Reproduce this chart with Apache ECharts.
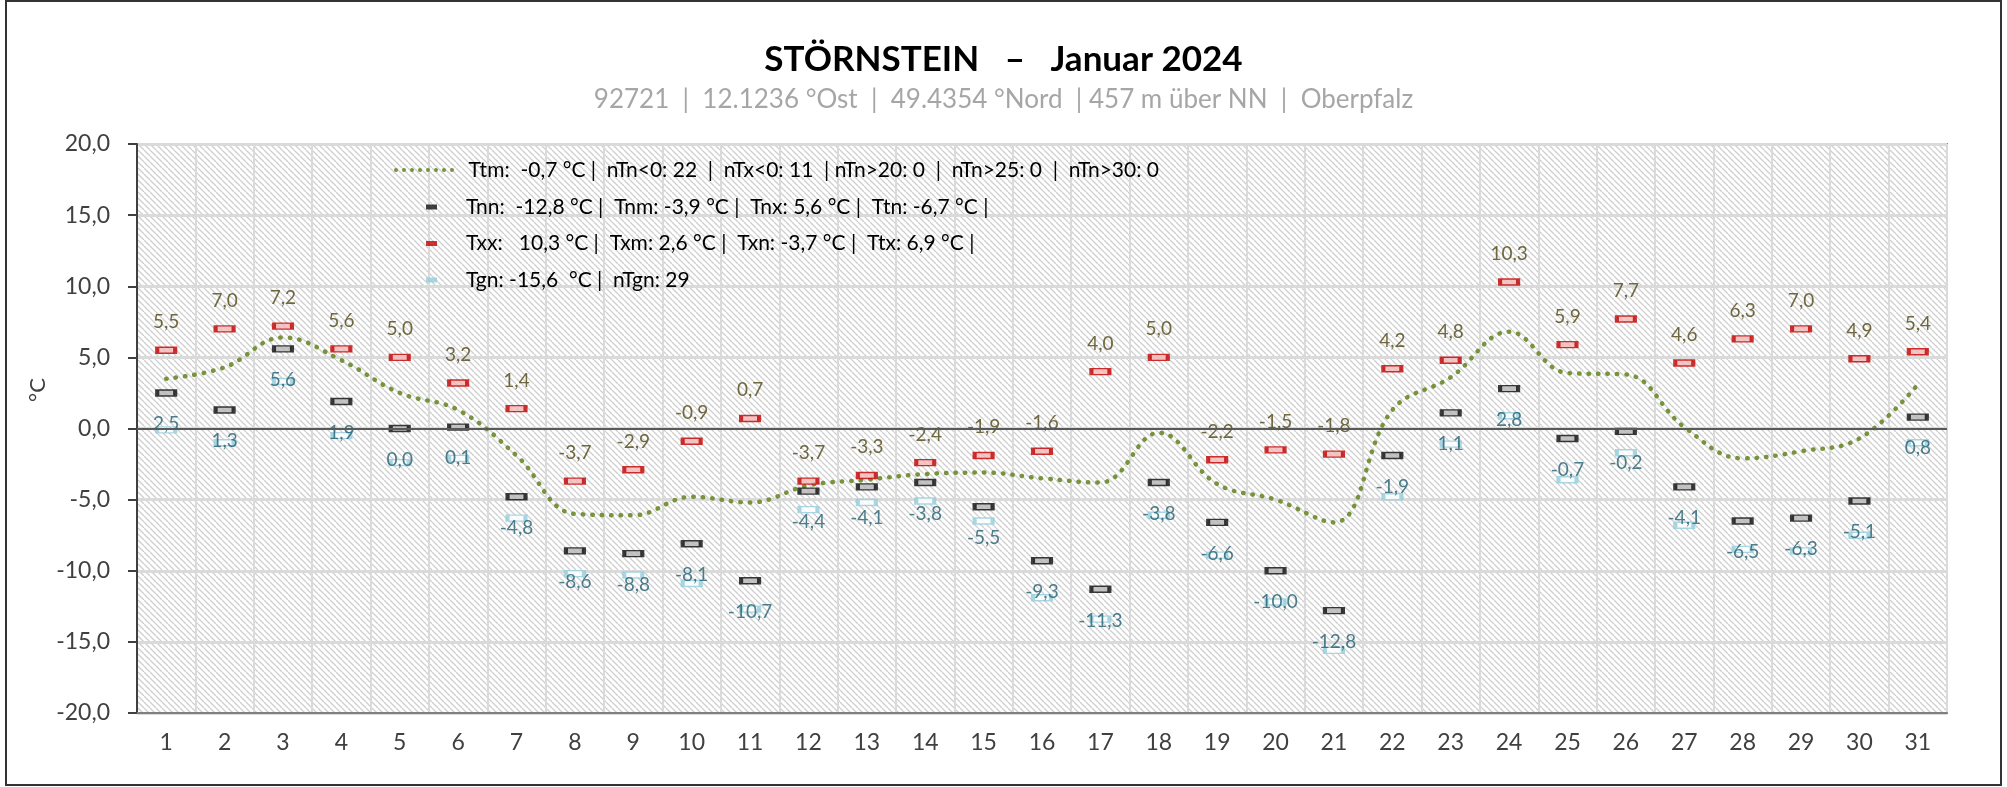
<!DOCTYPE html>
<html>
<head>
<meta charset="utf-8">
<script src="https://cdn.jsdelivr.net/npm/echarts@6/dist/echarts.min.js"></script>
<style>
  html, body { margin: 0; padding: 0; background: #fff; }
  #main { width: 2007px; height: 787px; }
</style>
</head>
<body>
<div id="main"></div>
<script>
// Tage
var days = [];
for (var d = 1; d <= 31; d++) days.push(String(d));

// Tagesmittel (gepunktete Linie)
var ttm = [3.5, 4.3, 6.4, 4.8, 2.5, 1.3, -1.9, -6.0, -6.1, -4.8, -5.2, -4.0, -3.6, -3.2, -3.1, -3.5,
           -3.8, -0.3, -3.9, -5.0, -6.6, 1.3, 3.6, 6.8, 3.9, 3.8, 0.1, -2.1, -1.6, -0.7, 3.1];
// Tiefstwerte (schwarz)
var tn = [2.5, 1.3, 5.6, 1.9, 0.0, 0.1, -4.8, -8.6, -8.8, -8.1, -10.7, -4.4, -4.1, -3.8, -5.5, -9.3,
          -11.3, -3.8, -6.6, -10.0, -12.8, -1.9, 1.1, 2.8, -0.7, -0.2, -4.1, -6.5, -6.3, -5.1, 0.8];
// Höchstwerte (rot)
var tx = [5.5, 7.0, 7.2, 5.6, 5.0, 3.2, 1.4, -3.7, -2.9, -0.9, 0.7, -3.7, -3.3, -2.4, -1.9, -1.6,
          4.0, 5.0, -2.2, -1.5, -1.8, 4.2, 4.8, 10.3, 5.9, 7.7, 4.6, 6.3, 7.0, 4.9, 5.4];
// Erdbodenminimum (hellblau)
var tgn = [-0.1, -1.0, 3.3, -0.5, -2.4, -2.1, -6.3, -10.2, -10.3, -10.9, -12.7, -5.7, -5.2, -5.1, -6.5, -11.9,
           -13.4, -6.1, -8.9, -12.2, -15.6, -4.8, -1.1, 0.9, -3.6, -1.7, -6.8, -8.5, -8.6, -7.5, -1.0];

var nameTtm = 'Ttm:  -0,7 °C |  nTn<0: 22  |  nTx<0: 11  | nTn>20: 0  |  nTn>25: 0  |  nTn>30: 0';
var nameTn  = 'Tnn:  -12,8 °C |  Tnm: -3,9 °C |  Tnx: 5,6 °C |  Ttn: -6,7 °C |';
var nameTx  = 'Txx:   10,3 °C |  Txm: 2,6 °C |  Txn: -3,7 °C |  Ttx: 6,9 °C |';
var nameTgn = 'Tgn: -15,6  °C |  nTgn: 29';

function komma(v) { return v.toFixed(1).replace('.', ','); }

// gepunktetes Legendensymbol
var dots = 'path://';
for (var i = 0; i < 8; i++) {
  dots += 'M' + (i * 8) + ',2 a2,2 0 1,0 4,0 a2,2 0 1,0 -4,0 ';
}

// Schraffur für den Hintergrund
var hatch = document.createElement('canvas');
hatch.width = 6; hatch.height = 6;
var hc = hatch.getContext('2d');
hc.fillStyle = '#ffffff';
hc.fillRect(0, 0, 6, 6);
hc.strokeStyle = '#cfcfcf';
hc.lineWidth = 1.3;
for (var k = -6; k <= 6; k += 6) {
  hc.beginPath();
  hc.moveTo(k, 0);
  hc.lineTo(k + 6, 6);
  hc.stroke();
}

var font = 'Lato, "Open Sans", sans-serif';
var myChart = echarts.init(document.getElementById('main'));

var option = {
  backgroundColor: '#fff',
  textStyle: { fontFamily: font },
  animation: false,
  title: [
    {
      text: 'STÖRNSTEIN   –   Januar 2024',
      left: 'center',
      top: 37,
      textStyle: { fontSize: 35, fontWeight: 'bold', color: '#000', fontFamily: font }
    },
    {
      text: '92721  |  12.1236 °Ost  |  49.4354 °Nord  | 457 m über NN  |  Oberpfalz',
      left: 'center',
      top: 82,
      textStyle: { fontSize: 26, fontWeight: 'normal', color: '#a6a6a6', fontFamily: font }
    }
  ],
  legend: [
    {
      data: [{ name: nameTtm, icon: dots, itemStyle: { color: '#77933c', borderWidth: 0 } }],
      left: 389,
      top: 154,
      itemWidth: 61,
      itemHeight: 4,
      textStyle: { fontSize: 21, color: '#000', lineHeight: 22, padding: [0, 0, 0, 9] }
    },
    {
      data: [
        { name: nameTn, itemStyle: { color: '#111', borderWidth: 0 } },
        { name: nameTx, itemStyle: { color: '#c00000', borderWidth: 0 } },
        { name: nameTgn, itemStyle: { color: '#92cddc', borderWidth: 0 } }
      ],
      orient: 'vertical',
      left: 421,
      top: 191,
      itemWidth: 11,
      itemHeight: 5,
      itemGap: 14.5,
      textStyle: { fontSize: 21, color: '#000', lineHeight: 22, padding: [0, 0, 0, 24] }
    }
  ],
  grid: {
    left: 137,
    right: 60,
    top: 144,
    bottom: 74,
    show: true,
    backgroundColor: { image: hatch, repeat: 'repeat' },
    borderColor: '#808080',
    borderWidth: 2
  },
  xAxis: {
    type: 'category',
    data: days,
    boundaryGap: true,
    axisLine: { onZero: false, lineStyle: { color: '#7f7f7f', width: 2 } },
    axisTick: { show: false },
    axisLabel: { fontSize: 23, color: '#404040', margin: 18, interval: 0 },
    splitLine: { show: true, interval: 0, lineStyle: { color: '#dadada', width: 2 } }
  },
  yAxis: {
    type: 'value',
    min: -20,
    max: 20,
    interval: 5,
    axisLine: { show: true, lineStyle: { color: '#404040', width: 2 } },
    axisTick: { show: true, length: 9, lineStyle: { color: '#404040', width: 2 } },
    axisLabel: { fontSize: 23, color: '#404040', margin: 27, formatter: function (v) { return komma(v); } },
    splitLine: { lineStyle: { color: '#dadada', width: 3 } }
  },
  graphic: [
    {
      type: 'text',
      x: 38,
      y: 390,
      rotation: Math.PI / 2,
      style: { text: '°C', font: '22px ' + font, fill: '#404040', align: 'center', verticalAlign: 'middle' }
    },
    {
      type: 'rect',
      shape: { x: 6, y: 1, width: 1995, height: 784 },
      style: { fill: 'none', stroke: '#333', lineWidth: 2 },
      silent: true
    }
  ],
  series: [
    {
      name: nameTtm,
      type: 'line',
      data: ttm,
      smooth: 0.4,
      symbol: 'none',
      z: 3,
      lineStyle: { color: '#77933c', width: 4.5, type: [0.5, 9], cap: 'round' },
      itemStyle: { color: '#77933c' },
      markLine: {
        silent: true,
        symbol: 'none',
        label: { show: false },
        lineStyle: { color: '#595959', width: 2, type: 'solid' },
        data: [{ yAxis: 0 }]
      }
    },
    {
      name: nameTn,
      type: 'scatter',
      data: tn,
      symbol: 'rect',
      symbolSize: [18, 6],
      z: 4,
      itemStyle: { color: '#b5b5b5', borderColor: '#0d0d0d', borderWidth: 2.4 },
      label: {
        show: true,
        position: 'bottom',
        distance: 18,
        fontSize: 19,
        color: '#215f72',
        formatter: function (p) { return komma(p.value); }
      }
    },
    {
      name: nameTx,
      type: 'scatter',
      data: tx,
      symbol: 'rect',
      symbolSize: [18, 6],
      z: 4,
      itemStyle: { color: '#f4b8b8', borderColor: '#c00000', borderWidth: 2.4 },
      label: {
        show: true,
        position: 'top',
        distance: 15,
        fontSize: 19,
        color: '#4f4511',
        formatter: function (p) { return komma(p.value); }
      }
    },
    {
      name: nameTgn,
      type: 'scatter',
      data: tgn,
      symbol: 'rect',
      symbolSize: [18, 6],
      z: 3,
      itemStyle: { color: '#ffffff', borderColor: '#92cddc', borderWidth: 2.4 }
    }
  ]
};

myChart.setOption(option);
</script>
</body>
</html>
